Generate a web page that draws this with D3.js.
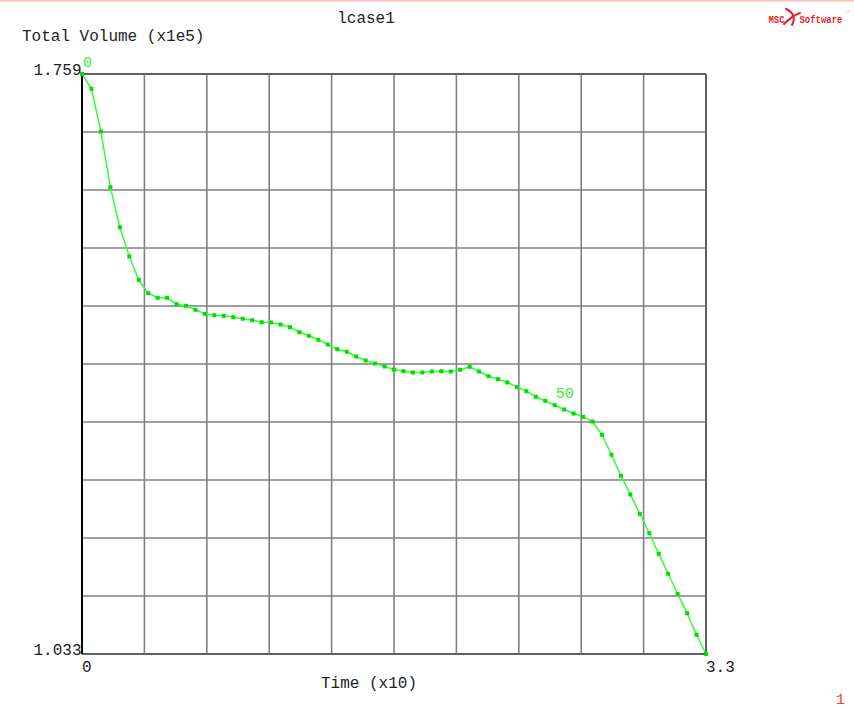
<!DOCTYPE html>
<html>
<head>
<meta charset="utf-8">
<script src="https://cdn.jsdelivr.net/npm/d3@7/dist/d3.min.js"></script>
<style>
  html, body { margin: 0; padding: 0; background: #ffffff; }
  svg { display: block; }
  text { font-family: "Liberation Mono", "DejaVu Sans Mono", monospace; }
</style>
</head>
<body>
<svg id="chart" width="854" height="708"></svg>
<script>
// ---- Data (time in x10, volume in x1e5) ----
const chartTitle = "lcase1";
const yAxisTitle = "Total Volume (x1e5)";
const xAxisTitle = "Time (x10)";
const pageNumber = "1";

const times = [0,0.05,0.1,0.15,0.2,0.25,0.3,0.35,0.4,0.45,0.5,0.55,0.6,0.65,0.7,0.75,0.8,0.85,0.9,0.95,
  1.0,1.05,1.1,1.15,1.2,1.25,1.3,1.35,1.4,1.45,1.5,1.55,1.6,1.65,1.7,1.75,1.8,1.85,1.9,1.95,
  2.0,2.05,2.1,2.15,2.2,2.25,2.3,2.35,2.4,2.45,2.5,2.55,2.6,2.65,2.7,2.75,2.8,2.85,2.9,2.95,
  3.0,3.05,3.1,3.15,3.2,3.25,3.3];

const volumes = [1.759,1.7405,1.6870,1.6173,1.5672,1.5306,1.5014,1.4846,1.4789,1.4789,
  1.4709,1.4689,1.4639,1.4588,1.4571,1.4563,1.4546,1.4526,1.4508,1.4483,
  1.4480,1.4454,1.4421,1.4358,1.4313,1.4263,1.4204,1.4145,1.4113,1.4054,
  1.4004,1.3966,1.3929,1.3891,1.3870,1.3854,1.3854,1.3866,1.3870,1.3866,
  1.3888,1.3925,1.3866,1.3807,1.3770,1.3729,1.3670,1.3620,1.3550,1.3499,
  1.3444,1.3391,1.3340,1.3299,1.3240,1.3074,1.2824,1.2561,1.2327,1.2085,
  1.1842,1.1584,1.1334,1.1084,1.0841,1.0570,1.033];

const xDomain = [0, 3.3];
const yDomain = [1.033, 1.759];
const xTickLabels = ["0", "3.3"];
const yTickLabels = ["1.033", "1.759"];
const labelIndices = [0, 50];
const gridDivisions = 10;

// ---- Layout ----
const plot = { left: 82, right: 706, top: 74, bottom: 654 };

const svg = d3.select("#chart");
svg.append("rect").attr("width", 854).attr("height", 708).attr("fill", "#ffffff");
// top pink strip
svg.append("rect").attr("x", 0).attr("y", 0).attr("width", 854).attr("height", 1.5).attr("fill", "#ffbcbc");

const x = d3.scaleLinear().domain(xDomain).range([plot.left, plot.right]);
const y = d3.scaleLinear().domain(yDomain).range([plot.bottom, plot.top]);

const data = times.map((t, i) => ({ t, v: volumes[i], i }));

// ---- Grid ----
const xGrid = d3.range(1, gridDivisions).map(k => xDomain[0] + k * (xDomain[1] - xDomain[0]) / gridDivisions);
const yGrid = d3.range(1, gridDivisions).map(k => yDomain[0] + k * (yDomain[1] - yDomain[0]) / gridDivisions);

const grid = svg.append("g").attr("stroke", "#808080").attr("stroke-width", 1.6);
grid.selectAll("line.vx").data(xGrid).join("line")
  .attr("x1", d => x(d)).attr("x2", d => x(d))
  .attr("y1", plot.top).attr("y2", plot.bottom);
grid.selectAll("line.hy").data(yGrid).join("line")
  .attr("y1", d => y(d)).attr("y2", d => y(d))
  .attr("x1", plot.left).attr("x2", plot.right);

// ---- Border ----
svg.append("line").attr("x1", plot.left).attr("x2", plot.right).attr("y1", plot.top).attr("y2", plot.top)
  .attr("stroke", "#606060").attr("stroke-width", 2);
svg.append("line").attr("x1", plot.right).attr("x2", plot.right).attr("y1", plot.top).attr("y2", plot.bottom)
  .attr("stroke", "#606060").attr("stroke-width", 2);
svg.append("line").attr("x1", plot.left).attr("x2", plot.right).attr("y1", plot.bottom).attr("y2", plot.bottom)
  .attr("stroke", "#606060").attr("stroke-width", 2);
svg.append("line").attr("x1", plot.left).attr("x2", plot.left).attr("y1", plot.top).attr("y2", plot.bottom)
  .attr("stroke", "#000000").attr("stroke-width", 2);

// ---- Data line ----
const line = d3.line().x(d => x(d.t)).y(d => y(d.v));
svg.append("path").datum(data).attr("d", line)
  .attr("fill", "none").attr("stroke", "#33ff33").attr("stroke-width", 1.5);

svg.append("g").selectAll("rect").data(data).join("rect")
  .attr("x", d => x(d.t) - 2).attr("y", d => y(d.v) - 2)
  .attr("width", 4).attr("height", 4).attr("fill", "#00dd00");

// point labels
svg.append("g").selectAll("text").data(labelIndices.map(i => data[i])).join("text")
  .attr("x", d => x(d.t) + 1).attr("y", d => y(d.v) - 7.5)
  .attr("fill", "#33ee33").attr("font-size", 15).text(d => String(d.i));

// ---- Axis labels ----
const txt = (s, xx, yy, anchor, opts = {}) => svg.append("text")
  .attr("x", xx).attr("y", yy).attr("text-anchor", anchor || "start")
  .attr("font-size", opts.size || 16).attr("fill", opts.fill || "#222222").text(s);

txt(chartTitle, 366, 23, "middle");
txt(yAxisTitle, 22, 40.5, "start");
txt(xAxisTitle, 321, 688, "start");

// y tick labels: min at bottom, max at top
txt(yTickLabels[1], plot.left - 0.5, y(yDomain[1]) + 1, "end");
txt(yTickLabels[0], plot.left - 0.5, y(yDomain[0]) + 1, "end");
// x tick labels
txt(xTickLabels[0], x(xDomain[0]), 672, "start");
txt(xTickLabels[1], x(xDomain[1]), 672, "start");

txt(pageNumber, 836, 704, "start", { fill: "#ff3030", size: 15 });

// ---- Logo ----
const logo = svg.append("g");
logo.append("text").attr("x", 768.5).attr("y", 22.5).attr("font-family", "Liberation Sans, Arial, sans-serif")
  .attr("font-weight", "bold").attr("font-size", 11).attr("fill", "#ee1c24")
  .attr("textLength", 16).attr("lengthAdjust", "spacingAndGlyphs").text("MSC");
logo.append("path")
  .attr("d", "M786,9 C793,12 796,18 792,25 M784,24 C789,19 794,15 800,13")
  .attr("fill", "none").attr("stroke", "#ee1c24").attr("stroke-width", 2).attr("stroke-linecap", "round");
logo.append("text").attr("x", 799.5).attr("y", 22.5).attr("font-family", "Liberation Sans, Arial, sans-serif")
  .attr("font-weight", "bold").attr("font-size", 10.5).attr("fill", "#ee1c24")
  .attr("textLength", 43).attr("lengthAdjust", "spacingAndGlyphs").text("Software");
logo.append("text").attr("x", 847.5).attr("y", 13).attr("font-family", "Liberation Sans, Arial, sans-serif")
  .attr("font-size", 3).attr("fill", "#ee1c24").text("®");
</script>
</body>
</html>
